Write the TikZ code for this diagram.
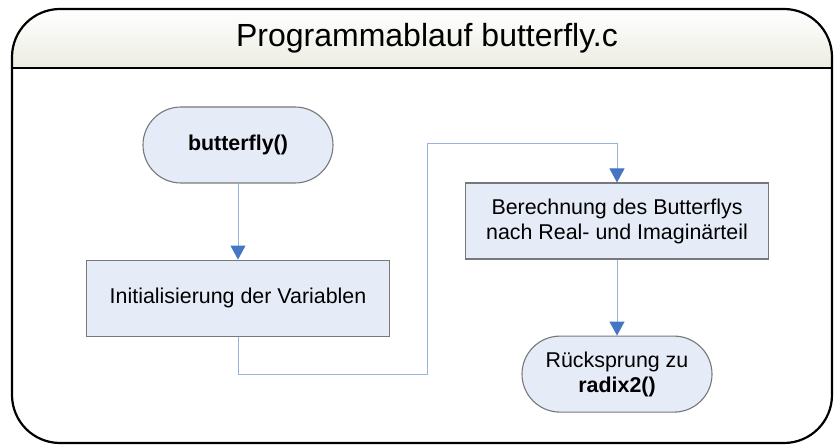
\documentclass[tikz,border=0pt]{standalone}
\usepackage{fontspec}
\setmainfont{Liberation Sans}
\usetikzlibrary{arrows.meta,positioning,calc}
\definecolor{boxfill}{RGB}{230,236,247}
\definecolor{boxline}{RGB}{120,120,120}
\definecolor{flowline}{RGB}{150,180,222}
\definecolor{flowtip}{RGB}{70,117,196}
\definecolor{bandfill}{RGB}{236,236,226}
\tikzset{
  process/.style={
    draw=boxline,
    fill=boxfill,
    line width=1.1pt,
    rectangle,
    minimum width=303pt,
    minimum height=76pt,
    align=center,
    font=\fontsize{21.4}{25}\selectfont
  },
  terminal/.style={
    process,
    rounded corners=38pt,
    minimum width=190pt
  },
  flow/.style={
    -{Triangle[length=14pt,width=15pt,color=flowtip]},
    draw=flowline,
    line width=1pt
  }
}

\begin{document}
\begin{tikzpicture}[x=1pt,y=1pt,node distance=76pt and 76pt]

\useasboundingbox (0,0) rectangle (835,445);

% frame with title band
\begin{scope}
  \clip[rounded corners=48pt] (12,2) rectangle (832,436);
  \fill[white] (12,2) rectangle (832,377);
  \shade[top color=white, bottom color=bandfill] (12,377) rectangle (832,436);
\end{scope}
\draw[line width=2.2pt, rounded corners=48pt] (12,2) rectangle (832,436);
\draw[line width=2.2pt] (12,377) -- (832,377);

\node[font=\fontsize{32}{38}\selectfont] (title) at (427,406.5) {Programmablauf butterfly.c};

\node[terminal] (start) at (238,300) {\textbf{butterfly()}};
\node[process, below=of start] (init) {Initialisierung der Variablen};
\node[process] (calc) at (617,224) {Berechnung des Butterflys\\nach Real- und Imaginärteil};
\node[terminal, below=of calc] (ret) {Rücksprung zu\\\textbf{radix2()}};

\coordinate (mid) at ($(init.east)!0.5!(calc.west)$);

\draw[flow] (start) -- (init);
\draw[flow] (init.south) -- ++(0,-38) -| (mid) |- ([yshift=39]calc.north) -- (calc.north);
\draw[flow] (calc) -- (ret);

\end{tikzpicture}
\end{document}
